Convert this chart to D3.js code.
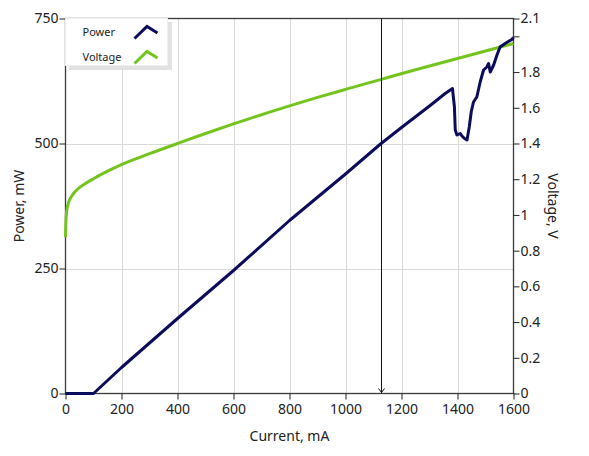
<!DOCTYPE html>
<html>
<head>
<meta charset="utf-8">
<script src="https://cdn.jsdelivr.net/npm/d3@7"></script>
<style>
  body { margin: 0; background: #fff; }
  text { font-family: "Noto Sans", "Open Sans", sans-serif; fill: #222; }
</style>
</head>
<body>
<svg id="chart" width="589" height="456"></svg>
<script>
// Power curve (mA -> mW)
var powerCurrent = [0, 100, 200, 400, 600, 800, 1000, 1125, 1200, 1300, 1356, 1382,
  1389, 1392, 1398, 1410, 1416, 1425, 1434, 1442, 1449, 1457, 1469, 1481, 1493,
  1505, 1511, 1517, 1529, 1541, 1552, 1570, 1594, 1600];
var powerValues = [0, 0, 52, 150, 246, 346, 439, 499, 532, 575, 600, 610,
  573, 527, 517, 520, 515, 510, 507, 533, 563, 583, 593, 623, 647,
  653, 660, 643, 657, 677, 693, 700, 708, 712];

// Voltage curve (mA -> V)
var voltageCurrent = [0, 2, 5, 10, 20, 40, 70, 100, 150, 200, 300, 400, 500, 600, 700,
  800, 900, 1000, 1125, 1250, 1400, 1500, 1600];
var voltageValues = [0.875, 0.98, 1.03, 1.065, 1.10, 1.14, 1.175, 1.203, 1.245, 1.282, 1.343, 1.40,
  1.456, 1.51, 1.561, 1.611, 1.658, 1.703, 1.758, 1.813, 1.876, 1.918, 1.96];

var xTicks = [0, 200, 400, 600, 800, 1000, 1200, 1400, 1600];
var powerTicks = [0, 250, 500, 750];
var voltTicks = [0, 0.2, 0.4, 0.6, 0.8, 1, 1.2, 1.4, 1.6, 1.8, 2.0, 2.1];
var cursorCurrent = 1127;

var seriesNames = ["Power", "Voltage"];
var seriesColors = ["#0c0c5c", "#74c41e"];

// plot box (px)
var pL = 65.5, pR = 513.5, pT = 18.5, pB = 393.5;

var svg = d3.select("#chart");

var x = d3.scaleLinear().domain([0, 1600]).range([pL, pR]);
var yP = d3.scaleLinear().domain([0, 750]).range([pB, pT]);
var yV = d3.scaleLinear().domain([0, 2.1]).range([pB, pT]);

// grid
var grid = svg.append("g").attr("stroke", "#d9d9d9").attr("stroke-width", 1);
grid.selectAll("line.v").data(xTicks.slice(1, -1)).enter().append("line")
  .attr("x1", function (d) { return Math.round(x(d)) + 0.5; })
  .attr("x2", function (d) { return Math.round(x(d)) + 0.5; })
  .attr("y1", pT).attr("y2", pB);
grid.selectAll("line.h").data(powerTicks.slice(1, -1)).enter().append("line")
  .attr("x1", pL).attr("x2", pR)
  .attr("y1", function (d) { return Math.round(yP(d)) + 0.5; })
  .attr("y2", function (d) { return Math.round(yP(d)) + 0.5; });

// frame
svg.append("rect").attr("x", pL).attr("y", pT)
  .attr("width", pR - pL).attr("height", pB - pT)
  .attr("fill", "none").attr("stroke", "#3a3a3a").attr("stroke-width", 1.3);

// axes
var styleAxis = function (g) {
  g.select(".domain").remove();
  g.selectAll(".tick line").attr("stroke", "#222");
  g.selectAll(".tick text").style("font-size", "14px")
    .style("font-family", "\"Noto Sans\", sans-serif").attr("fill", "#222");
};

svg.append("g").attr("transform", "translate(0," + pB + ")")
  .call(d3.axisBottom(x).tickValues(xTicks).tickSize(6).tickPadding(5).tickFormat(d3.format("d")))
  .call(styleAxis);

svg.append("g").attr("transform", "translate(" + pL + ",0)")
  .call(d3.axisLeft(yP).tickValues(powerTicks).tickSize(6).tickPadding(1).tickFormat(d3.format("d")))
  .call(styleAxis);

svg.append("g").attr("transform", "translate(" + pR + ",0)")
  .call(d3.axisRight(yV).tickValues(voltTicks).tickSize(6).tickPadding(1)
    .tickFormat(function (d) { return d === 2.0 ? "" : d3.format("~g")(d); }))
  .call(styleAxis);

// titles
svg.append("text").attr("x", (pL + pR) / 2).attr("y", 441)
  .attr("text-anchor", "middle").style("font-size", "14px").text("Current, mA");
svg.append("text").attr("transform", "translate(24," + (pT + pB) / 2 + ") rotate(-90)")
  .attr("text-anchor", "middle").style("font-size", "14px").text("Power, mW");
svg.append("text").attr("transform", "translate(548," + (pT + pB) / 2 + ") rotate(90)")
  .attr("text-anchor", "middle").style("font-size", "14px").text("Voltage, V");

// series
var powerLine = d3.line()
  .x(function (d, i) { return x(powerCurrent[i]); })
  .y(function (d) { return yP(d); });
var voltLine = d3.line()
  .x(function (d, i) { return x(voltageCurrent[i]); })
  .y(function (d) { return yV(d); })
  .curve(d3.curveMonotoneX);

svg.append("path").datum(voltageValues).attr("d", voltLine)
  .attr("fill", "none").attr("stroke", seriesColors[1]).attr("stroke-width", 3);
svg.append("path").datum(powerValues).attr("d", powerLine)
  .attr("fill", "none").attr("stroke", seriesColors[0]).attr("stroke-width", 3)
  .attr("stroke-linejoin", "round");

// cursor
var cx = Math.round(x(cursorCurrent)) + 0.5;
svg.append("line").attr("x1", cx).attr("x2", cx).attr("y1", pT).attr("y2", pB)
  .attr("stroke", "#111").attr("stroke-width", 1);
svg.append("path")
  .attr("d", "M" + (cx - 3) + "," + (pB - 5) + "L" + cx + "," + (pB - 1) + "L" + (cx + 3) + "," + (pB - 5))
  .attr("fill", "none").attr("stroke", "#111").attr("stroke-width", 1);

// legend
var lg = svg.append("g");
lg.append("rect").attr("x", pL + 3.5).attr("y", pT + 3.5).attr("width", 103).attr("height", 48)
  .attr("fill", "#e2e2e2");
lg.append("rect").attr("x", pL).attr("y", pT).attr("width", 102).attr("height", 47)
  .attr("fill", "#fff").attr("stroke", "#f0f0f0");
var items = lg.selectAll("g.item").data(seriesNames).enter().append("g")
  .attr("transform", function (d, i) { return "translate(" + pL + "," + (pT + 17 + i * 25) + ")"; });
items.append("text").attr("x", 17).attr("y", 0).style("font-size", "11px").text(function (d) { return d; });
items.append("path").attr("d", "M69,3L81.5,-9L92,-2.5")
  .attr("fill", "none").attr("stroke", function (d, i) { return seriesColors[i]; }).attr("stroke-width", 3);
</script>
</body>
</html>
